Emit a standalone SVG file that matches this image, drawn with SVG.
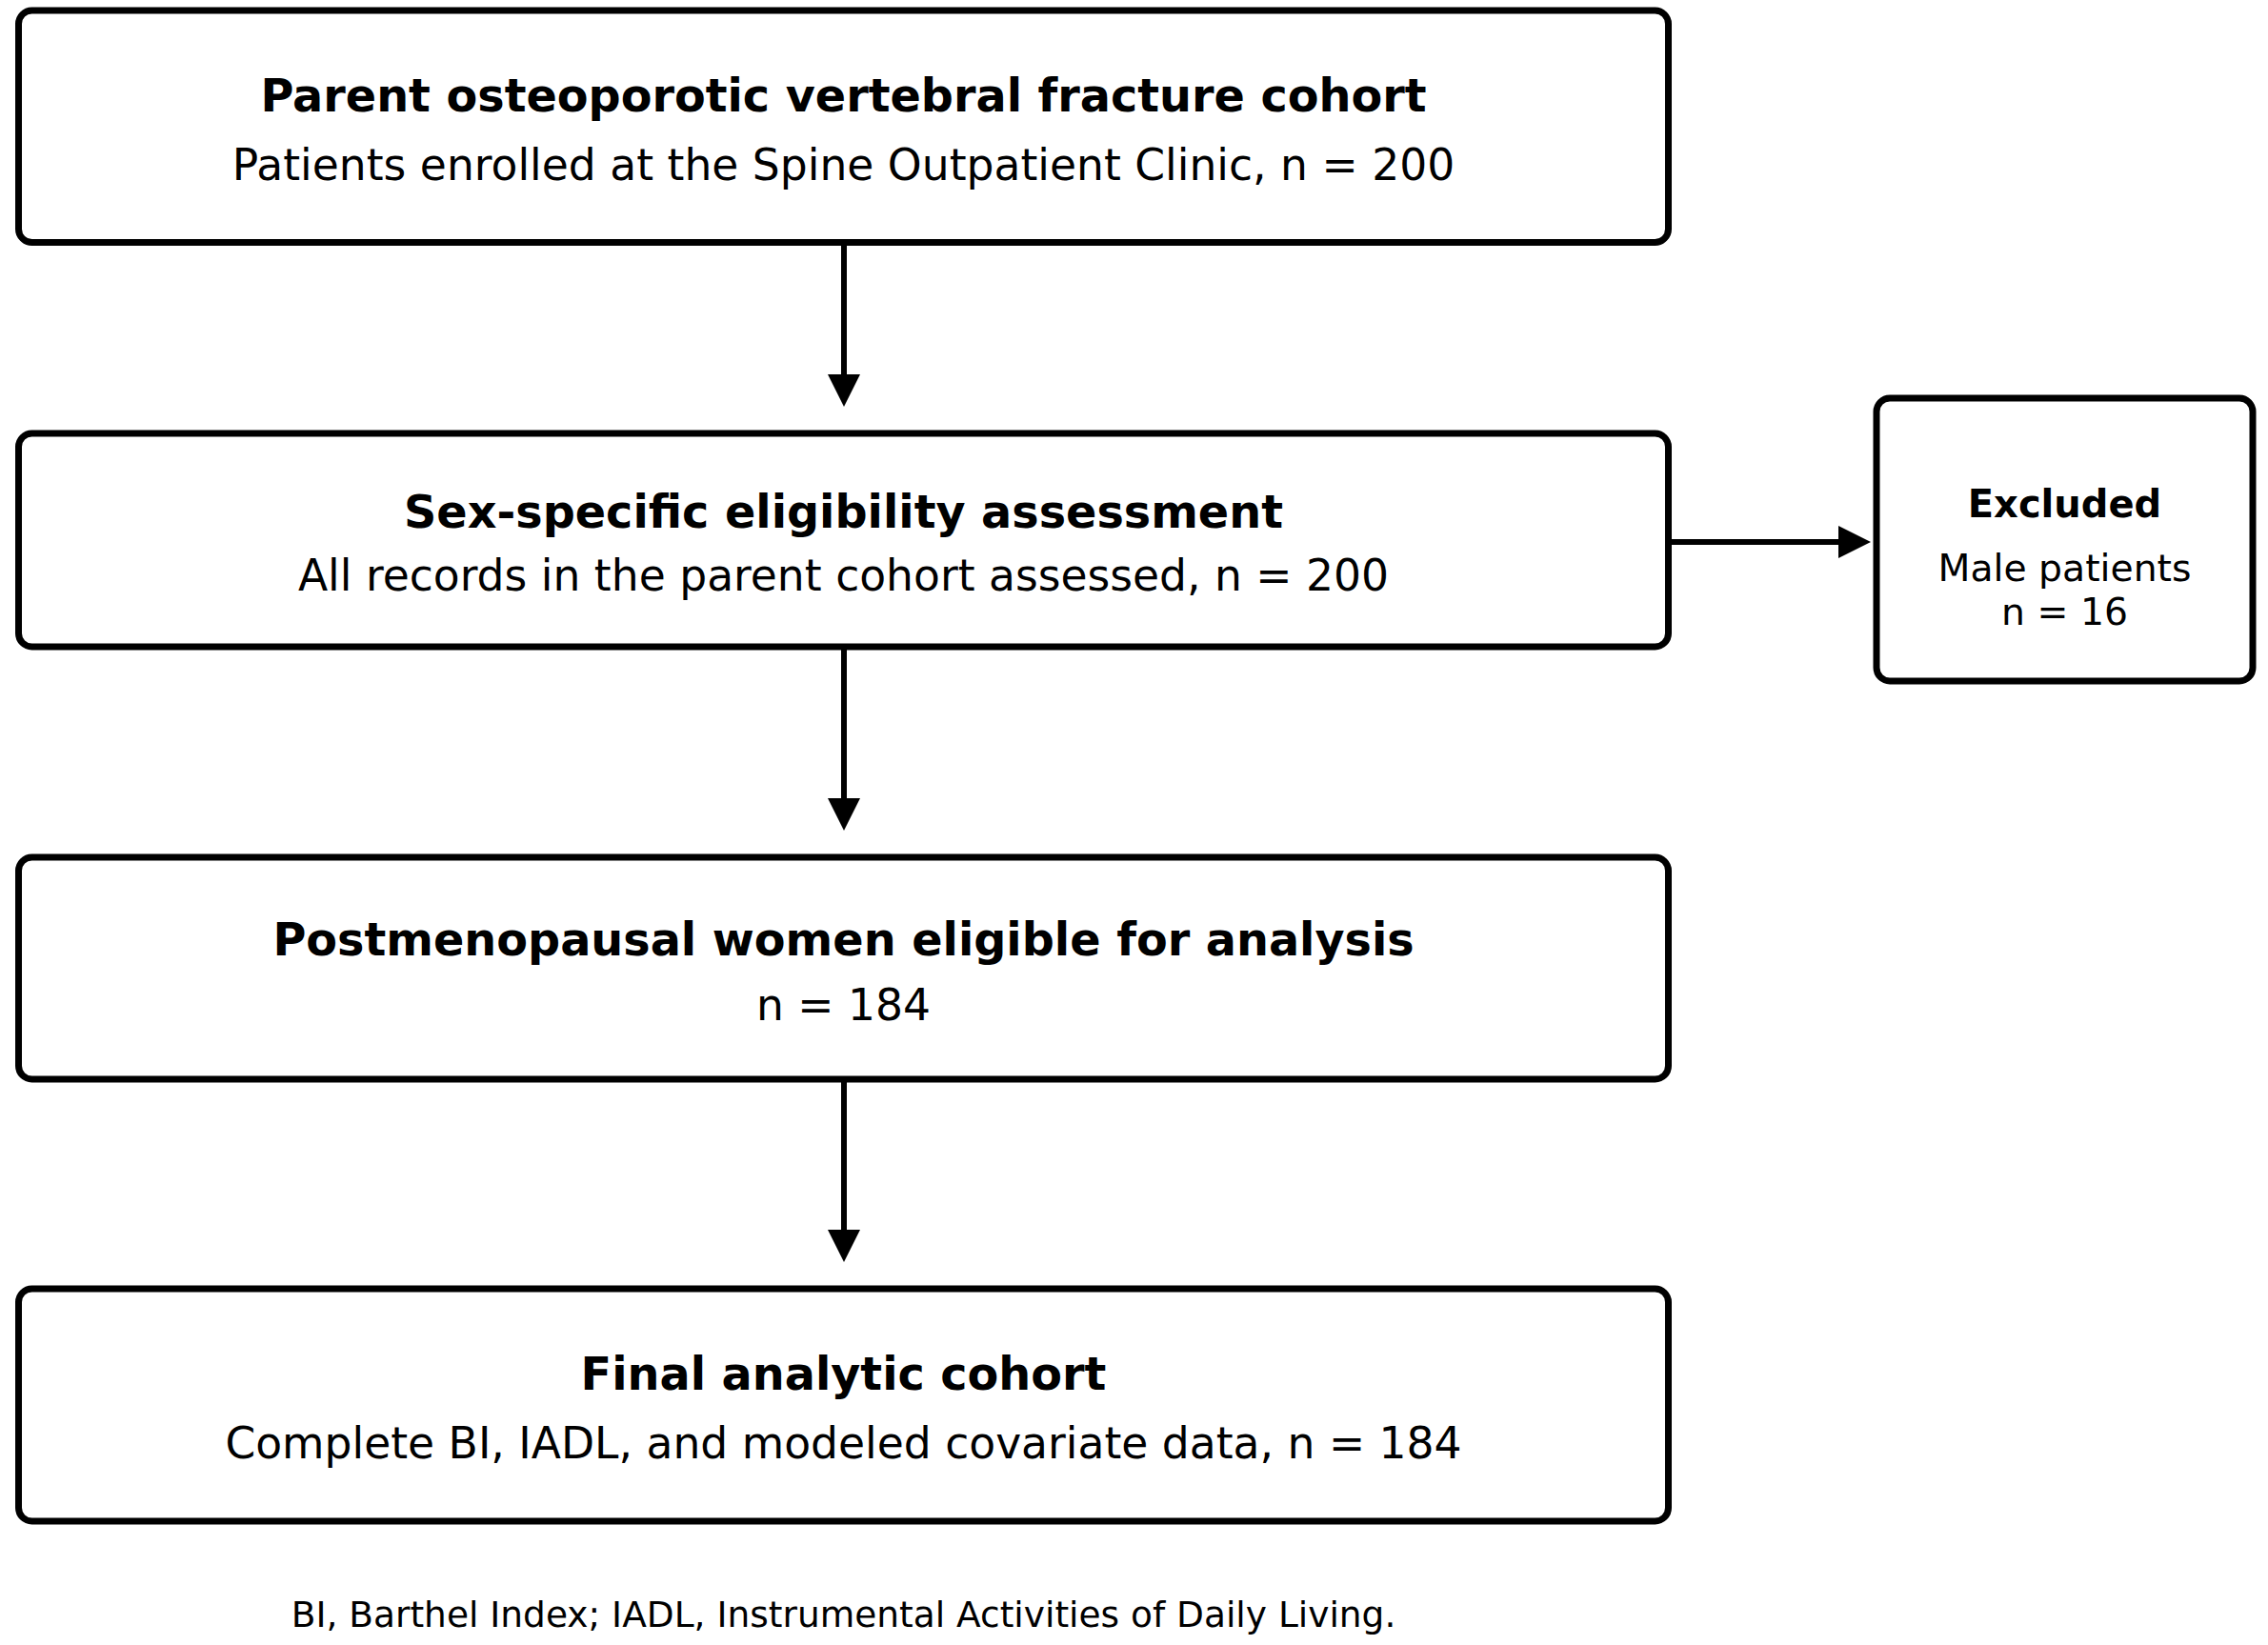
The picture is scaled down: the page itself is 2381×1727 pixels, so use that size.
<svg xmlns="http://www.w3.org/2000/svg" width="2381" height="1727" viewBox="0 0 2381 1727">
<defs>
<style>
.box{fill:#fff;stroke:#000;stroke-width:7}
.t{font-family:"DejaVu Sans",sans-serif;font-weight:bold;font-size:47.7px;text-anchor:middle;fill:#000}
.s{font-family:"DejaVu Sans",sans-serif;font-size:45.6px;text-anchor:middle;fill:#000}
.et{font-family:"DejaVu Sans",sans-serif;font-weight:bold;font-size:40px;text-anchor:middle;fill:#000}
.es{font-family:"DejaVu Sans",sans-serif;font-size:39.3px;text-anchor:middle;fill:#000}
.fn{font-family:"DejaVu Sans",sans-serif;font-size:37.5px;text-anchor:middle;fill:#000}
.c{stroke:#000;stroke-width:6;fill:none}
</style>
<marker id="ah" markerUnits="userSpaceOnUse" markerWidth="36" markerHeight="36" refX="0" refY="17" orient="auto">
<path d="M0,0 L34,17 L0,34 z" fill="#000"/>
</marker>
</defs>
<rect width="2381" height="1727" fill="#fff"/>
<g id="connectors">
<line class="c" x1="886" y1="255" x2="886" y2="393" marker-end="url(#ah)"/>
<line class="c" x1="886" y1="679" x2="886" y2="838" marker-end="url(#ah)"/>
<line class="c" x1="886" y1="1133" x2="886" y2="1291" marker-end="url(#ah)"/>
<line class="c" x1="1752" y1="569" x2="1930" y2="569" marker-end="url(#ah)"/>
</g>
<g id="node1">
<rect class="box" x="19.5" y="11" width="1732" height="243.5" rx="14"/>
<text class="t" x="885.5" y="116.5">Parent osteoporotic vertebral fracture cohort</text>
<text class="s" x="885.5" y="188.5">Patients enrolled at the Spine Outpatient Clinic, n = 200</text>
</g>
<g id="node2">
<rect class="box" x="19.5" y="455" width="1732" height="224" rx="14"/>
<text class="t" x="885.5" y="553.5">Sex-specific eligibility assessment</text>
<text class="s" x="885.5" y="619.5">All records in the parent cohort assessed, n = 200</text>
</g>
<g id="node3">
<rect class="box" x="19.5" y="900" width="1732" height="233" rx="14"/>
<text class="t" x="885.5" y="1003">Postmenopausal women eligible for analysis</text>
<text class="s" x="885.5" y="1071">n = 184</text>
</g>
<g id="node4">
<rect class="box" x="19.5" y="1353" width="1732" height="244" rx="14"/>
<text class="t" x="885.5" y="1459">Final analytic cohort</text>
<text class="s" x="885.5" y="1531">Complete BI, IADL, and modeled covariate data, n = 184</text>
</g>
<g id="excluded">
<rect class="box" x="1970" y="418" width="395" height="297" rx="14"/>
<text class="et" x="2167.5" y="543">Excluded</text>
<text class="es" x="2167.5" y="610">Male patients</text>
<text class="es" x="2167.5" y="656">n = 16</text>
</g>
<text class="fn" x="885.5" y="1708">BI, Barthel Index; IADL, Instrumental Activities of Daily Living.</text>
</svg>
